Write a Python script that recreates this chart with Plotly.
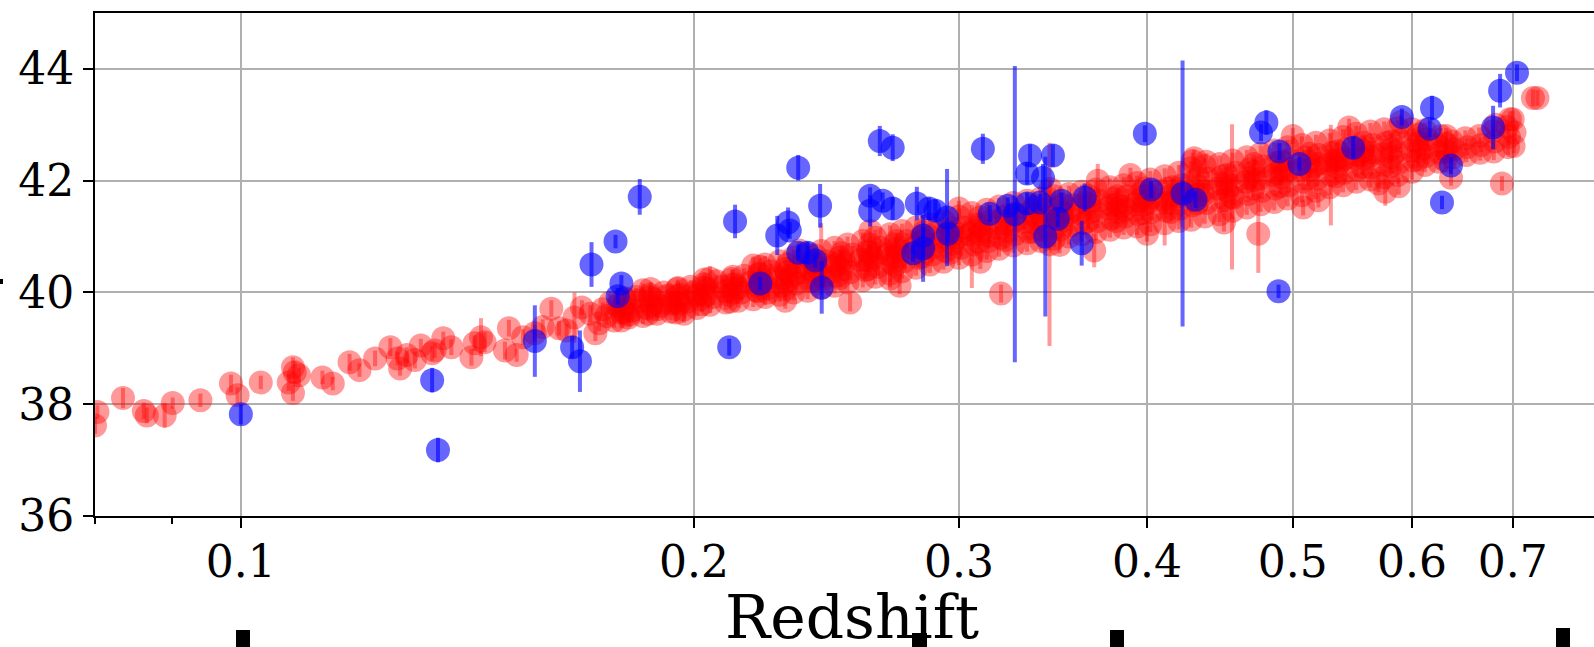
import math
import plotly.graph_objects as go

# ---------------- data ----------------
red_z = [
    0.0803, 0.0800, 0.0835, 0.0862, 0.0866, 0.0890, 0.0901, 0.0940, 0.0985, 0.0995,
    0.1031, 0.1083, 0.1086, 0.1076, 0.1083, 0.1093, 0.1133, 0.1151, 0.1181, 0.1199,
    0.1228, 0.1257, 0.1271, 0.1276, 0.1289, 0.1305, 0.1317, 0.1345, 0.1363, 0.1380,
    0.1340, 0.1423, 0.1430, 0.1444, 0.1452, 0.1507, 0.1498, 0.1525, 0.1540, 0.1568,
    0.1608, 0.1587, 0.1627, 0.1646, 0.1666, 0.1685, 0.1707, 0.1720,
    0.173, 0.175, 0.174, 0.176,
    0.177, 0.179, 0.178, 0.180,
    0.181, 0.182, 0.180, 0.183, 0.181,
    0.185, 0.186, 0.184, 0.187, 0.185,
    0.189, 0.190, 0.188, 0.191, 0.189,
    0.193, 0.194, 0.192, 0.195, 0.193,
    0.197, 0.198, 0.196, 0.199, 0.197,
    0.201, 0.202, 0.200, 0.203, 0.201,
    0.205, 0.206, 0.204, 0.207, 0.205,
    0.210, 0.211, 0.209, 0.212, 0.210,
    0.214, 0.215, 0.213, 0.216, 0.214,
    0.219, 0.220, 0.218, 0.221, 0.219, 0.220,
    0.223, 0.224, 0.222, 0.225, 0.223, 0.224,
    0.228, 0.229, 0.227, 0.230, 0.228, 0.229,
    0.233, 0.234, 0.232, 0.235, 0.233, 0.234,
    0.238, 0.239, 0.237, 0.240, 0.238, 0.239,
    0.243, 0.244, 0.242, 0.245, 0.243, 0.244,
    0.248, 0.249, 0.247, 0.250, 0.248, 0.249,
    0.253, 0.254, 0.252, 0.255, 0.253, 0.254,
    0.259, 0.260, 0.258, 0.261, 0.259, 0.260,
    0.264, 0.265, 0.263, 0.266, 0.264, 0.265,
    0.270, 0.271, 0.269, 0.272, 0.270, 0.271,
    0.275, 0.276, 0.274, 0.277, 0.275, 0.274,
    0.281, 0.282, 0.280, 0.283, 0.281, 0.282,
    0.287, 0.288, 0.286, 0.289, 0.287, 0.288,
    0.293, 0.294, 0.292, 0.295, 0.293, 0.294,
    0.300, 0.301, 0.299, 0.302, 0.300, 0.301,
    0.306, 0.307, 0.305, 0.308, 0.306, 0.307,
    0.313, 0.314, 0.312, 0.315, 0.313, 0.314,
    0.319, 0.320, 0.318, 0.321, 0.319, 0.320,
    0.326, 0.327, 0.325, 0.328, 0.326, 0.327,
    0.333, 0.334, 0.332, 0.335, 0.333, 0.3446,
    0.340, 0.341, 0.339, 0.342, 0.340, 0.341,
    0.347, 0.348, 0.346, 0.349, 0.347, 0.348,
    0.355, 0.356, 0.354, 0.357, 0.355, 0.356,
    0.362, 0.363, 0.361, 0.364, 0.362, 0.369,
    0.370, 0.371, 0.369, 0.372, 0.370, 0.371,
    0.378, 0.379, 0.377, 0.380, 0.378, 0.379,
    0.386, 0.387, 0.385, 0.388, 0.386, 0.387,
    0.394, 0.395, 0.393, 0.396, 0.394, 0.395,
    0.402, 0.403, 0.401, 0.404, 0.402, 0.403,
    0.411, 0.412, 0.410, 0.413, 0.411, 0.412,
    0.420, 0.421, 0.419, 0.422, 0.420, 0.421,
    0.428, 0.429, 0.427, 0.430, 0.428, 0.429, 0.427,
    0.437, 0.438, 0.436, 0.439, 0.437, 0.438, 0.436,
    0.447, 0.448, 0.446, 0.449, 0.447, 0.448,
    0.456, 0.457, 0.455, 0.458, 0.456, 0.4556,
    0.466, 0.467, 0.465, 0.468, 0.466, 0.467,
    0.476, 0.477, 0.475, 0.478, 0.476, 0.4743,
    0.486, 0.487, 0.485, 0.488, 0.486, 0.487,
    0.496, 0.497, 0.495, 0.498, 0.496, 0.497,
    0.507, 0.508, 0.506, 0.509, 0.507, 0.508,
    0.518, 0.519, 0.517, 0.520, 0.518, 0.519,
    0.529, 0.530, 0.528, 0.531, 0.529, 0.530,
    0.540, 0.541, 0.539, 0.542, 0.540, 0.541,
    0.551, 0.552, 0.550, 0.553, 0.551, 0.552,
    0.563, 0.564, 0.562, 0.565, 0.563, 0.564,
    0.575, 0.576, 0.574, 0.577, 0.575, 0.576,
    0.587, 0.588, 0.586, 0.589, 0.587, 0.588,
    0.600, 0.601, 0.599, 0.602, 0.600,
    0.612, 0.613, 0.611, 0.614, 0.612,
    0.625, 0.626, 0.624, 0.627,
    0.639, 0.640, 0.638, 0.637,
    0.652, 0.653, 0.651,
    0.666, 0.667, 0.665,
    0.680, 0.681, 0.679, 0.682,
    0.695, 0.696, 0.694, 0.697, 0.6886,
    0.701, 0.702, 0.700, 0.722, 0.727,
    # core of the band (between the columns above)
    0.1790, 0.1800, 0.1795, 0.1798,
    0.1865, 0.1875, 0.1870, 0.1872,
    0.1945, 0.1955, 0.1950, 0.1952,
    0.2025, 0.2035, 0.2030, 0.2033,
    0.2115, 0.2125, 0.2120, 0.2123,
    0.2205, 0.2215, 0.2210, 0.2213,
    0.2300, 0.2310, 0.2305, 0.2308,
    0.2400, 0.2410, 0.2405, 0.2408,
    0.2500, 0.2510, 0.2505, 0.2508,
    0.2610, 0.2620, 0.2615, 0.2618,
    0.2720, 0.2730, 0.2725, 0.2728,
    0.2835, 0.2845, 0.2840, 0.2843,
    0.2960, 0.2970, 0.2965, 0.2968,
    0.3090, 0.3100, 0.3095, 0.3098,
    0.3220, 0.3230, 0.3225, 0.3228,
    0.3360, 0.3370, 0.3365, 0.3368,
    0.3505, 0.3515, 0.3510, 0.3513,
    0.3655, 0.3665, 0.3660, 0.3663,
    0.3815, 0.3825, 0.3820, 0.3823,
    0.3975, 0.3985, 0.3980, 0.3983,
    0.4150, 0.4160, 0.4155, 0.4158,
    0.4320, 0.4330, 0.4325, 0.4328,
    0.4510, 0.4520, 0.4515, 0.4518,
    0.4705, 0.4715, 0.4710, 0.4713,
    0.4905, 0.4915, 0.4910, 0.4913,
    0.5120, 0.5130, 0.5125, 0.5128,
    0.5340, 0.5350, 0.5345, 0.5348,
    0.5565, 0.5575, 0.5570, 0.5573,
    0.5805, 0.5815, 0.5810, 0.5813,
    0.6055, 0.6065, 0.6060, 0.6063,
    0.6315, 0.6325, 0.6320, 0.6323,
    # scattered points along the band edges
    0.262, 0.300, 0.345, 0.390, 0.430, 0.500, 0.545, 0.590, 0.235,
    0.230, 0.270, 0.310, 0.350, 0.400, 0.450, 0.520, 0.570,
]
red_mu = [
    37.86, 37.62, 38.11, 37.88, 37.80, 37.80, 38.02, 38.07, 38.37, 38.16,
    38.39, 38.66, 38.57, 38.39, 38.20, 38.52, 38.48, 38.37, 38.75, 38.61,
    38.82, 39.02, 38.82, 38.64, 38.88, 38.79, 39.05, 38.96, 39.18, 39.02,
    38.91, 38.84, 39.09, 39.20, 39.11, 39.36, 38.96, 38.88, 39.20, 39.27,
    39.71, 39.38, 39.36, 39.32, 39.55, 39.73, 39.62, 39.27,
    39.45, 39.58, 39.70, 39.82,
    39.50, 39.64, 39.76, 39.88,
    39.55, 39.68, 39.80, 39.92, 39.60,
    39.58, 39.72, 39.85, 39.96, 40.04,
    39.62, 39.76, 39.88, 40.00, 39.70,
    39.66, 39.82, 39.94, 40.06, 39.80,
    39.70, 39.84, 39.96, 40.10, 39.62,
    39.72, 39.88, 40.00, 40.14, 39.95,
    39.78, 39.92, 40.06, 40.20, 40.25,
    39.82, 39.96, 40.10, 40.24, 40.02,
    39.85, 40.00, 40.14, 40.30, 40.08,
    39.88, 40.04, 40.18, 40.34, 40.48, 40.14,
    39.92, 40.08, 40.22, 40.38, 40.50, 40.00,
    39.96, 40.12, 40.26, 40.42, 40.56, 40.25,
    40.00, 40.16, 40.30, 40.46, 40.62, 40.34,
    40.03, 40.20, 40.36, 40.52, 40.68, 40.40,
    40.08, 40.25, 40.41, 40.56, 40.74, 40.30,
    40.12, 40.30, 40.46, 40.62, 40.80, 40.50,
    40.18, 40.36, 40.52, 40.68, 40.86, 39.82,
    40.22, 40.40, 40.58, 40.74, 40.92, 40.58,
    40.28, 40.46, 40.62, 40.80, 40.98, 40.70,
    40.34, 40.52, 40.68, 40.86, 41.04, 40.64,
    40.38, 40.56, 40.74, 40.92, 41.10, 40.12,
    40.44, 40.62, 40.80, 40.98, 41.16, 40.88,
    40.50, 40.68, 40.86, 41.04, 41.22, 40.80,
    40.55, 40.74, 40.92, 41.10, 41.28, 40.98,
    40.62, 40.80, 40.98, 41.16, 41.36, 41.04,
    40.68, 40.86, 41.04, 41.22, 41.42, 41.10,
    40.74, 40.92, 41.10, 41.28, 41.48, 41.02,
    40.78, 40.98, 41.16, 41.34, 41.54, 39.98,
    40.84, 41.04, 41.22, 41.40, 41.60, 41.30,
    40.88, 41.08, 41.26, 41.44, 41.64, 40.86,
    40.92, 41.12, 41.30, 41.48, 41.68, 41.36,
    40.96, 41.16, 41.34, 41.52, 41.72, 41.28,
    41.00, 41.20, 41.38, 41.56, 41.76, 41.44,
    41.04, 41.24, 41.42, 41.60, 41.80, 40.75,
    41.08, 41.28, 41.46, 41.64, 41.84, 42.00,
    41.12, 41.32, 41.50, 41.68, 41.88, 41.56,
    41.16, 41.36, 41.54, 41.72, 41.92, 41.48,
    41.18, 41.40, 41.58, 41.76, 41.96, 41.64,
    41.22, 41.44, 41.62, 41.80, 42.02, 41.70,
    41.24, 41.46, 41.66, 41.86, 42.08, 41.60,
    41.28, 41.50, 41.72, 41.92, 42.14, 41.80,
    41.30, 41.56, 41.78, 42.00, 42.22, 42.35, 41.66,
    41.36, 41.60, 41.82, 42.04, 42.26, 42.34, 41.75,
    41.40, 41.64, 41.86, 42.08, 42.30, 41.95,
    41.46, 41.70, 41.92, 42.14, 42.36, 41.71,
    41.52, 41.76, 41.98, 42.20, 42.42, 42.05,
    41.58, 41.82, 42.04, 42.26, 42.48, 41.05,
    41.62, 41.86, 42.10, 42.32, 42.54, 42.14,
    41.68, 41.92, 42.16, 42.38, 42.60, 42.20,
    41.74, 41.98, 42.20, 42.42, 42.64, 41.52,
    41.82, 42.04, 42.26, 42.46, 42.68, 42.30,
    41.88, 42.10, 42.30, 42.50, 42.72, 42.36,
    41.92, 42.14, 42.36, 42.56, 42.78, 42.40,
    41.98, 42.20, 42.40, 42.60, 42.84, 42.46,
    42.02, 42.24, 42.44, 42.64, 42.88, 42.50,
    42.06, 42.28, 42.48, 42.68, 42.92, 41.80,
    42.10, 42.32, 42.52, 42.72, 42.94, 41.90,
    42.16, 42.36, 42.54, 42.72, 42.92,
    42.28, 42.44, 42.58, 42.74, 42.90,
    42.34, 42.50, 42.64, 42.80,
    42.42, 42.56, 42.70, 42.05,
    42.46, 42.60, 42.76,
    42.50, 42.64, 42.80,
    42.52, 42.70, 42.88, 43.00,
    42.60, 42.78, 42.96, 43.10, 41.95,
    42.62, 42.86, 43.10, 43.48, 43.48,
    # core of the band
    39.50, 39.64, 39.76, 39.90,
    39.62, 39.77, 39.92, 40.06,
    39.64, 39.80, 39.94, 40.08,
    39.79, 39.94, 40.09, 40.23,
    39.84, 40.00, 40.14, 40.28,
    40.02, 40.17, 40.32, 40.46,
    40.06, 40.22, 40.36, 40.50,
    40.22, 40.37, 40.52, 40.66,
    40.26, 40.42, 40.56, 40.70,
    40.42, 40.57, 40.72, 40.86,
    40.48, 40.64, 40.78, 40.92,
    40.64, 40.79, 40.94, 41.08,
    40.71, 40.87, 41.01, 41.15,
    40.90, 41.05, 41.20, 41.34,
    40.94, 41.10, 41.24, 41.38,
    41.09, 41.24, 41.39, 41.53,
    41.13, 41.29, 41.43, 41.57,
    41.28, 41.43, 41.58, 41.72,
    41.28, 41.44, 41.58, 41.72,
    41.42, 41.57, 41.72, 41.86,
    41.44, 41.60, 41.74, 41.88,
    41.60, 41.75, 41.90, 42.04,
    41.66, 41.82, 41.96, 42.10,
    41.86, 42.01, 42.16, 42.30,
    41.90, 42.06, 42.20, 42.34,
    42.04, 42.19, 42.34, 42.48,
    42.08, 42.24, 42.38, 42.52,
    42.24, 42.39, 42.54, 42.68,
    42.26, 42.42, 42.56, 42.70,
    42.38, 42.53, 42.68, 42.82,
    42.36, 42.52, 42.66, 42.80,
    # scattered points along the band edges
    41.10, 41.50, 41.85, 42.10, 42.40, 42.80, 42.95, 43.05, 40.75,
    39.85, 40.25, 40.55, 40.85, 41.05, 41.25, 41.65, 41.95,
]
red_err = [
    0.12, 0.15, 0.18, 0.15, 0.14, 0.22, 0.10, 0.12, 0.16, 0.14,
    0.12, 0.18, 0.20, 0.15, 0.14, 0.13, 0.12, 0.12, 0.15, 0.12,
    0.14, 0.16, 0.12, 0.13, 0.14, 0.15, 0.12, 0.13, 0.12, 0.14,
    0.13, 0.15, 0.14, 0.34, 0.18, 0.15, 0.16, 0.12, 0.14, 0.15,
    0.15, 0.14, 0.13, 0.12, 0.45, 0.13, 0.15, 0.14,
    0.14, 0.16, 0.12, 0.15,
    0.13, 0.15, 0.18, 0.12,
    0.15, 0.12, 0.14, 0.16, 0.13,
    0.14, 0.20, 0.13, 0.15, 0.12,
    0.12, 0.15, 0.14, 0.13, 0.16,
    0.15, 0.13, 0.12, 0.14, 0.15,
    0.13, 0.14, 0.15, 0.12, 0.16,
    0.14, 0.12, 0.16, 0.15, 0.13,
    0.15, 0.14, 0.13, 0.12, 0.22,
    0.13, 0.15, 0.14, 0.16, 0.12,
    0.12, 0.14, 0.15, 0.13, 0.18,
    0.14, 0.13, 0.15, 0.12, 0.16, 0.14,
    0.15, 0.14, 0.12, 0.13, 0.15, 0.16,
    0.13, 0.15, 0.14, 0.16, 0.12, 0.14,
    0.14, 0.12, 0.15, 0.13, 0.14, 0.15,
    0.15, 0.14, 0.13, 0.12, 0.16, 0.14,
    0.12, 0.15, 0.14, 0.14, 0.50, 0.15,
    0.14, 0.13, 0.15, 0.14, 0.12, 0.16,
    0.15, 0.14, 0.13, 0.15, 0.14, 0.16,
    0.13, 0.15, 0.14, 0.12, 0.15, 0.13,
    0.14, 0.16, 0.13, 0.15, 0.14, 0.12,
    0.15, 0.13, 0.14, 0.12, 0.16, 0.14,
    0.13, 0.14, 0.15, 0.14, 0.13, 0.15,
    0.14, 0.15, 0.13, 0.16, 0.14, 0.12,
    0.15, 0.14, 0.12, 0.15, 0.13, 0.14,
    0.14, 0.13, 0.15, 0.14, 0.16, 0.13,
    0.13, 0.15, 0.14, 0.13, 0.14, 0.15,
    0.60, 0.15, 0.13, 0.15, 0.14, 0.12,
    0.15, 0.13, 0.14, 0.16, 0.13, 0.14,
    0.14, 0.15, 0.13, 0.14, 0.15, 0.16,
    0.13, 0.14, 0.16, 0.15, 0.13, 0.14,
    0.15, 0.14, 0.13, 0.15, 0.14, 1.82,
    0.14, 0.13, 0.15, 0.14, 0.16, 0.13,
    0.15, 0.14, 0.13, 0.15, 0.14, 0.13,
    0.14, 0.15, 0.14, 0.13, 0.15, 0.14,
    0.13, 0.14, 0.15, 0.14, 0.13, 0.30,
    0.15, 0.13, 0.14, 0.15, 0.14, 0.30,
    0.14, 0.15, 0.13, 0.14, 0.16, 0.13,
    0.13, 0.14, 0.15, 0.13, 0.14, 0.15,
    0.15, 0.13, 0.14, 0.16, 0.13, 0.14,
    0.14, 0.15, 0.13, 0.14, 0.15, 0.13,
    0.40, 0.14, 0.15, 0.13, 0.14, 0.16,
    0.15, 0.14, 0.13, 0.15, 0.14, 0.13,
    0.14, 0.13, 0.15, 0.14, 0.13, 0.15, 0.14,
    0.13, 0.15, 0.14, 0.13, 0.14, 0.15, 0.13,
    0.14, 0.15, 0.13, 0.14, 0.15, 0.14,
    0.15, 0.14, 0.13, 0.15, 0.14, 1.30,
    0.13, 0.14, 0.15, 0.14, 0.13, 0.15,
    0.14, 0.15, 0.13, 0.14, 0.15, 0.70,
    0.15, 0.14, 0.13, 0.15, 0.14, 0.13,
    0.14, 0.13, 0.15, 0.14, 0.13, 0.15,
    0.13, 0.15, 0.14, 0.13, 0.15, 0.14,
    0.15, 0.14, 0.13, 0.15, 0.14, 0.13,
    0.14, 0.90, 0.15, 0.14, 0.13, 0.15,
    0.13, 0.14, 0.15, 0.13, 0.14, 0.15,
    0.15, 0.13, 0.14, 0.15, 0.14, 0.13,
    0.14, 0.15, 0.13, 0.14, 0.15, 0.14,
    0.13, 0.14, 0.15, 0.13, 0.14, 0.25,
    0.15, 0.14, 0.13, 0.15, 0.14, 0.15,
    0.14, 0.13, 0.15, 0.14, 0.13,
    0.13, 0.15, 0.14, 0.13, 0.14,
    0.14, 0.13, 0.15, 0.14,
    0.15, 0.14, 0.13, 0.14,
    0.13, 0.15, 0.14,
    0.14, 0.13, 0.15,
    0.15, 0.14, 0.13, 0.14,
    0.14, 0.15, 0.13, 0.14, 0.13,
    0.13, 0.14, 0.15, 0.15, 0.14,
    # core of the band
    0.14, 0.13, 0.15, 0.14,
    0.13, 0.14, 0.15, 0.13,
    0.15, 0.14, 0.13, 0.15,
    0.14, 0.15, 0.14, 0.13,
    0.13, 0.14, 0.15, 0.14,
    0.15, 0.13, 0.14, 0.15,
    0.14, 0.15, 0.13, 0.14,
    0.13, 0.14, 0.15, 0.13,
    0.15, 0.13, 0.14, 0.15,
    0.14, 0.15, 0.13, 0.14,
    0.13, 0.14, 0.15, 0.13,
    0.15, 0.13, 0.14, 0.15,
    0.14, 0.15, 0.13, 0.14,
    0.13, 0.14, 0.15, 0.13,
    0.15, 0.13, 0.14, 0.15,
    0.14, 0.15, 0.13, 0.14,
    0.13, 0.14, 0.15, 0.13,
    0.15, 0.13, 0.14, 0.15,
    0.14, 0.15, 0.13, 0.14,
    0.13, 0.14, 0.15, 0.13,
    0.15, 0.13, 0.14, 0.15,
    0.14, 0.15, 0.13, 0.14,
    0.13, 0.14, 0.15, 0.13,
    0.15, 0.13, 0.14, 0.15,
    0.14, 0.15, 0.13, 0.14,
    0.13, 0.14, 0.15, 0.13,
    0.15, 0.13, 0.14, 0.15,
    0.14, 0.15, 0.13, 0.14,
    0.13, 0.14, 0.15, 0.13,
    0.15, 0.13, 0.14, 0.15,
    0.14, 0.15, 0.13, 0.14,
    # scattered points along the band edges
    0.15, 0.14, 0.16, 0.13, 0.15, 0.14, 0.16, 0.13, 0.15,
    0.14, 0.16, 0.13, 0.15, 0.14, 0.16, 0.13, 0.15,
]

blue_z = [
    0.1000, 0.1340, 0.1352, 0.1568, 0.1660, 0.1680, 0.1710, 0.1774, 0.1790, 0.1780,
    0.1841, 0.2130, 0.2214, 0.2272, 0.2111, 0.2346, 0.2310, 0.2316, 0.2346, 0.2380,
    0.2408, 0.2426, 0.2432, 0.2619, 0.2619, 0.2658, 0.2670, 0.2711, 0.2711, 0.2813,
    0.2840, 0.2840, 0.2797, 0.2866, 0.2894, 0.2946, 0.2950, 0.3112, 0.3145, 0.3233,
    0.3268, 0.3330, 0.3345, 0.3330, 0.3412, 0.3464, 0.3396, 0.3424, 0.3490, 0.3510,
    0.3637, 0.3620, 0.3987, 0.4025, 0.4224, 0.4308, 0.4802, 0.4763, 0.4899, 0.5051,
    0.4892, 0.5484, 0.5908, 0.6187, 0.6165, 0.6369, 0.6282, 0.6793, 0.6866, 0.7046,
]
blue_mu = [
    37.82, 38.43, 37.18, 39.13, 39.02, 38.77, 40.50, 40.91, 40.16, 39.93,
    41.71, 41.27, 40.16, 41.02, 39.02, 42.23, 41.25, 41.11, 40.71, 40.71,
    40.57, 41.55, 40.09, 41.73, 41.46, 42.71, 41.64, 42.59, 41.50, 41.59,
    41.02, 40.79, 40.70, 41.50, 41.46, 41.34, 41.05, 42.57, 41.41, 41.55,
    41.40, 42.13, 42.45, 41.59, 42.05, 42.45, 41.61, 41.00, 41.32, 41.64,
    41.70, 40.88, 42.84, 41.84, 41.77, 41.66, 43.04, 42.86, 42.52, 42.30,
    40.02, 42.59, 43.14, 43.30, 42.93, 42.27, 41.61, 42.95, 43.61, 43.93,
]
blue_err = [
    0.18, 0.22, 0.22, 0.64, 0.20, 0.55, 0.40, 0.12, 0.15, 0.15,
    0.32, 0.30, 0.12, 0.35, 0.15, 0.23, 0.27, 0.15, 0.15, 0.20,
    0.12, 0.39, 0.47, 0.15, 0.28, 0.27, 0.15, 0.24, 0.20, 0.30,
    0.15, 0.60, 0.15, 0.20, 0.20, 0.87, 0.15, 0.27, 0.15, 0.15,
    2.65, 0.20, 0.20, 0.20, 0.25, 0.20, 0.15, 1.43, 0.15, 0.15,
    0.25, 0.40, 0.15, 0.15, 2.38, 0.15, 0.22, 0.15, 0.15, 0.12,
    0.12, 0.20, 0.15, 0.22, 0.15, 0.15, 0.12, 0.39, 0.30, 0.15,
]

x_tick_vals = [0.1, 0.2, 0.3, 0.4, 0.5, 0.6, 0.7]
x_tick_text = ["0.1", "0.2", "0.3", "0.4", "0.5", "0.6", "0.7"]
x_minor_vals = [0.08, 0.09]
y_tick_vals = [36, 38, 40, 42, 44]
y_tick_text = ["36", "38", "40", "42", "44"]
x_title = "Redshift"

# ---------------- figure ----------------
W, H = 1594, 647
L, R, T, B = 95, 0, 13, 131
FONT = "DejaVu Serif"

fig = go.Figure()
fig.add_trace(go.Scatter(
    x=red_z, y=red_mu, mode="markers",
    marker=dict(size=24, color="rgba(255,0,0,0.4)", line=dict(width=0)),
    error_y=dict(type="data", array=red_err, visible=True,
                 color="rgba(255,0,0,0.4)", thickness=4, width=0),
    showlegend=False,
))
fig.add_trace(go.Scatter(
    x=blue_z, y=blue_mu, mode="markers",
    marker=dict(size=24, color="rgba(0,0,255,0.6)", line=dict(width=0)),
    error_y=dict(type="data", array=blue_err, visible=True,
                 color="rgba(0,0,255,0.6)", thickness=4, width=0),
    showlegend=False,
))

axis_common = dict(
    showline=True, linecolor="black", linewidth=2,
    ticks="outside", ticklen=10, tickwidth=2, tickcolor="black",
    showgrid=True, gridcolor="#b0b0b0", gridwidth=2,
    zeroline=False,
    tickfont=dict(family=FONT, size=44, color="black"),
)

fig.update_xaxes(
    type="log",
    range=[math.log10(0.08), math.log10(0.7927)],
    tickmode="array", tickvals=x_tick_vals, ticktext=x_tick_text,
    mirror=True,
    ticklabelstandoff=-4,
    minor=dict(tickmode="array", tickvals=x_minor_vals, ticks="outside",
               ticklen=6, tickwidth=1.5, tickcolor="black", showgrid=False),
    **axis_common,
)
fig.update_yaxes(
    range=[36, 45],
    tickmode="array", tickvals=y_tick_vals, ticktext=y_tick_text,
    mirror=False,
    **axis_common,
)


def px_x(p):
    return (p - L) / (W - L - R)


def px_y(p):
    return (H - B - p) / (H - B - T)


# cropped pieces of neighbouring elements visible along the lower edge
shapes = []
for x0, x1, y0 in [(236, 250, 630), (912, 927, 633), (1110, 1124, 630), (1556, 1570, 628)]:
    shapes.append(dict(type="rect", xref="paper", yref="paper",
                       x0=px_x(x0), x1=px_x(x1), y0=px_y(y0), y1=px_y(H + 2),
                       fillcolor="black", line=dict(width=0), layer="above"))
shapes.append(dict(type="rect", xref="paper", yref="paper",
                   x0=px_x(-2), x1=px_x(3), y0=px_y(279), y1=px_y(284),
                   fillcolor="black", line=dict(width=0), layer="above"))

fig.update_layout(
    width=W, height=H,
    margin=dict(l=L, r=R, t=T, b=B, pad=0),
    paper_bgcolor="white", plot_bgcolor="white",
    font=dict(family=FONT, color="black"),
    shapes=shapes,
    annotations=[dict(text=x_title, xref="paper", yref="paper",
                      x=px_x(852), y=px_y(617), xanchor="center", yanchor="middle",
                      showarrow=False,
                      font=dict(family=FONT, size=60, color="black"))],
    showlegend=False,
)

fig.write_html("out.html")
